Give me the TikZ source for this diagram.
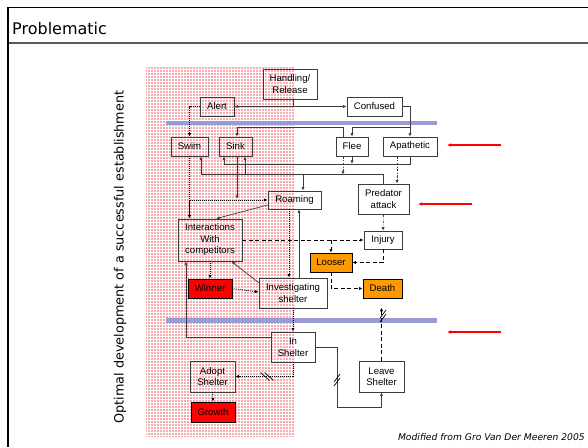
\documentclass[tikz,border=0pt]{standalone}
\usepackage{fontspec}
\setmainfont{Liberation Sans}
\newfontfamily\comicfont{DejaVu Sans}
\usetikzlibrary{arrows.meta}
\definecolor{boxgray}{RGB}{60,60,60}
\definecolor{bandblue}{RGB}{155,155,212}
\definecolor{myorange}{RGB}{255,153,0}
\definecolor{myred}{RGB}{255,0,0}
\definecolor{pinkfill}{RGB}{247,172,178}
\definecolor{framegray}{RGB}{90,90,90}
\begin{document}
\begin{tikzpicture}[x=1pt,y=-1pt,
  box/.style={draw=boxgray, line width=0.7pt, inner sep=0pt, align=center,
    font=\fontsize{9.6}{11.5}\selectfont},
  tipped/.style={-{Latex[length=3.6pt,width=3.2pt]}},
  conn/.style={draw=boxgray, line width=0.7pt, tipped},
  plainline/.style={draw=boxgray, line width=0.7pt},
  dotline/.style={draw=black, line width=0.8pt, dash pattern=on 0.8pt off 1.2pt, tipped},
  dashline/.style={draw=black, line width=0.9pt, dash pattern=on 4pt off 2.5pt, tipped},
  dashdotline/.style={draw=boxgray, line width=0.7pt, dash pattern=on 2.5pt off 1.5pt on 0.8pt off 1.5pt, tipped},
  redarrow/.style={draw=myred, line width=1.2pt, -{Latex[length=4pt,width=3.5pt]}},
  slashmark/.style={draw=black, line width=0.7pt}
]
\useasboundingbox (0,0) rectangle (588,447);
\fill[white] (0,0) rectangle (588,447);

% frame
\draw[line width=0.7pt] (8,7) -- (588,7);
\draw[line width=1.8pt, framegray] (8,43) -- (588,43);
\draw[line width=2pt] (8,6.6) -- (8,447);
\node[anchor=west, inner sep=0pt, font=\comicfont\fontsize{16}{18}\selectfont] (title) at (12,29) {Problematic};

% pink background region
\begin{scope}
\clip (146,66) rectangle (294,437);
\fill[pinkfill] (146,66) rectangle (294,437);
\draw[white, line width=0.7pt, step=3pt] (146pt,-437pt) grid (294pt,-66pt);
\end{scope}

% blue bands
\fill[bandblue] (166,120.5) rectangle (437,125);
\fill[bandblue] (166,317.5) rectangle (437,322.5);

% nodes
\node[box, minimum width=54pt, minimum height=30pt] (handling) at (290,84) {Handling/\\Release};
\node[box, minimum width=34pt, minimum height=19pt] (alert) at (217,106.5) {Alert};
\node[box, minimum width=55pt, minimum height=19pt] (confused) at (374.5,106.5) {Confused};
\node[box, minimum width=37pt, minimum height=19pt] (swim) at (189.5,146.5) {Swim};
\node[box, minimum width=33pt, minimum height=19pt] (sink) at (235.5,146.5) {Sink};
\node[box, minimum width=32pt, minimum height=19pt] (flee) at (352,146.5) {Flee};
\node[box, minimum width=54pt, minimum height=19pt] (apathetic) at (410,146.5) {Apathetic};
\node[box, minimum width=53pt, minimum height=18pt] (roaming) at (294.5,200) {Roaming};
\node[box, minimum width=51pt, minimum height=30pt] (predator) at (383.5,199) {Predator\\attack};
\node[box, minimum width=64pt, minimum height=42pt] (interactions) at (210,240) {Interactions\\With\\competitors};
\node[box, minimum width=38pt, minimum height=18pt] (injury) at (383,240) {Injury};
\node[box, draw=black, fill=myorange, minimum width=42pt, minimum height=19pt] (looser) at (331,262.5) {Looser};
\node[box, draw=black, fill=myred, minimum width=44pt, minimum height=19pt] (winner) at (210,288.5) {Winner};
\node[box, minimum width=68pt, minimum height=30pt] (investigating) at (293,293) {Investigating\\shelter};
\node[box, draw=black, fill=myorange, minimum width=39pt, minimum height=19pt] (death) at (382.5,288.5) {Death};
\node[box, minimum width=44pt, minimum height=30pt] (inshelter) at (293,347) {In\\Shelter};
\node[box, minimum width=45pt, minimum height=31pt] (adopt) at (212.5,376.5) {Adopt\\Shelter};
\node[box, draw=black, fill=myred, minimum width=44pt, minimum height=20pt] (growth) at (213,412) {Growth};
\node[box, minimum width=45pt, minimum height=31pt] (leave) at (381.5,376.5) {Leave\\Shelter};

% helper rows
\coordinate (toprow) at (0,127.5);
\coordinate (sinkrow) at (0,164);
\coordinate (predrow) at (0,174.5);

% connectors, top part
\draw[conn] ([xshift=3pt]handling.south) |- (alert.east);
\draw[conn] ([xshift=3pt]handling.south) |- (confused.west);
\draw[dotline] (alert.west) -| (swim.north);
\draw[conn] (confused.east) -| (apathetic.north);
\draw[conn] (apathetic.north |- toprow) -| (flee.north);
\draw[conn] ([xshift=-9pt]flee.north) -- ([xshift=-9pt]flee.north |- toprow) -- ([xshift=1.5pt]sink.north |- toprow) -- ([xshift=1.5pt]sink.north);

\draw[conn] (apathetic.south) |- ([xshift=-11.5pt]sink.south |- sinkrow) -- ([xshift=-11.5pt]sink.south);
\draw[conn] (flee.south) -- (flee.south |- sinkrow);
\draw[dashdotline] ([xshift=-13pt]apathetic.south) -- ([xshift=-13pt]apathetic.south |- predator.north);
\draw[dashdotline] ([xshift=-9pt]flee.south) -- ([xshift=-9pt]flee.south |- predrow);

\draw[plainline] (predator.north) -- (predator.north |- predrow) -- ([xshift=11.5pt]swim.south |- predrow);
\draw[conn] ([xshift=11.5pt]swim.south |- predrow) -- ([xshift=11.5pt]swim.south);
\draw[conn] ([xshift=9.5pt]sink.south |- predrow) -- ([xshift=9.5pt]sink.south);
\draw[conn] ([xshift=8.5pt]roaming.north |- predrow) -- ([xshift=8.5pt]roaming.north);

\draw[dotline] (swim.south) |- (roaming.west);
\draw[conn] ([xshift=1.5pt]sink.south) -- ([xshift=1.5pt,yshift=1pt]sink.south |- roaming.west);
\draw[line width=1.3pt, draw=black, tipped] (swim.south |- roaming.west) -- (swim.south |- interactions.north);

% middle part
\draw[conn] ([yshift=-5pt]roaming.west) -- ([xshift=6pt]interactions.north);
\draw[dotline] ([xshift=-5.5pt]roaming.south) -- ([xshift=-5.5pt]roaming.south |- investigating.north);
\draw[conn] ([xshift=6pt]investigating.north) -- ([xshift=6pt]investigating.north |- roaming.south);
\draw[dotline] (interactions.south) -- (winner.north);
\draw[conn] ([yshift=-5pt]investigating.north west) -- ([xshift=-11pt]interactions.south east);
\draw[dotline] (winner.east) -- ([yshift=1pt]investigating.west);

\draw[dashline] (interactions.east) -- (injury.west);
\draw[dashline] (looser.north |- interactions.east) -- (looser.north);
\draw[dashdotline] (predator.south) -- (injury.north);
\draw[dashline] (injury.south) |- (looser.east);
\draw[dashline] (looser.south) |- (death.west);

% bottom part
\draw[dotline] (investigating.south) -- (inshelter.north);
\draw[dotline] (inshelter.south) |- (adopt.east);
\draw[dotline] (adopt.south) -- (growth.north);
\draw[conn] ([yshift=10pt]inshelter.west) -| ([xshift=-24pt]interactions.south);
\draw[conn] (inshelter.east) -- ++(22pt,0) -- ++(0,-60pt) -| (leave.south);
\draw[dashline] (leave.north) -- ++(0,53pt);

% double slash marks
\coordinate (slA) at (267,376.5);
\coordinate (slB) at (337,380);
\coordinate (slC) at (383,316);
\draw[slashmark] (slA) ++(-6.5pt,4pt) -- ++(9pt,-8pt);
\draw[slashmark] (slA) ++(-2.5pt,4pt) -- ++(9pt,-8pt);
\draw[slashmark] (slB) ++(-3pt,-6pt) -- ++(6pt,8pt);
\draw[slashmark] (slB) ++(-3pt,-2pt) -- ++(6pt,8pt);
\draw[slashmark] (slC) ++(-3pt,-6pt) -- ++(6pt,8pt);
\draw[slashmark] (slC) ++(-3pt,-2pt) -- ++(6pt,8pt);

% red arrows
\coordinate (ra1s) at (501,145); \coordinate (ra1e) at (447,145);
\coordinate (ra2s) at (472,204); \coordinate (ra2e) at (418,204);
\coordinate (ra3s) at (501,332); \coordinate (ra3e) at (447,332);
\draw[redarrow] (ra1s) -- (ra1e);
\draw[redarrow] (ra2s) -- (ra2e);
\draw[redarrow] (ra3s) -- (ra3e);

% texts
\node[rotate=90, inner sep=0pt, font=\comicfont\fontsize{12.8}{14}\selectfont] (vtext) at (120,257) {Optimal development of a successful establishment};
\node[anchor=east, inner sep=0pt, font=\comicfont\itshape\fontsize{9.2}{11}\selectfont] (caption) at (585,437) {Modified from Gro Van Der Meeren 2005};
\end{tikzpicture}
\end{document}
